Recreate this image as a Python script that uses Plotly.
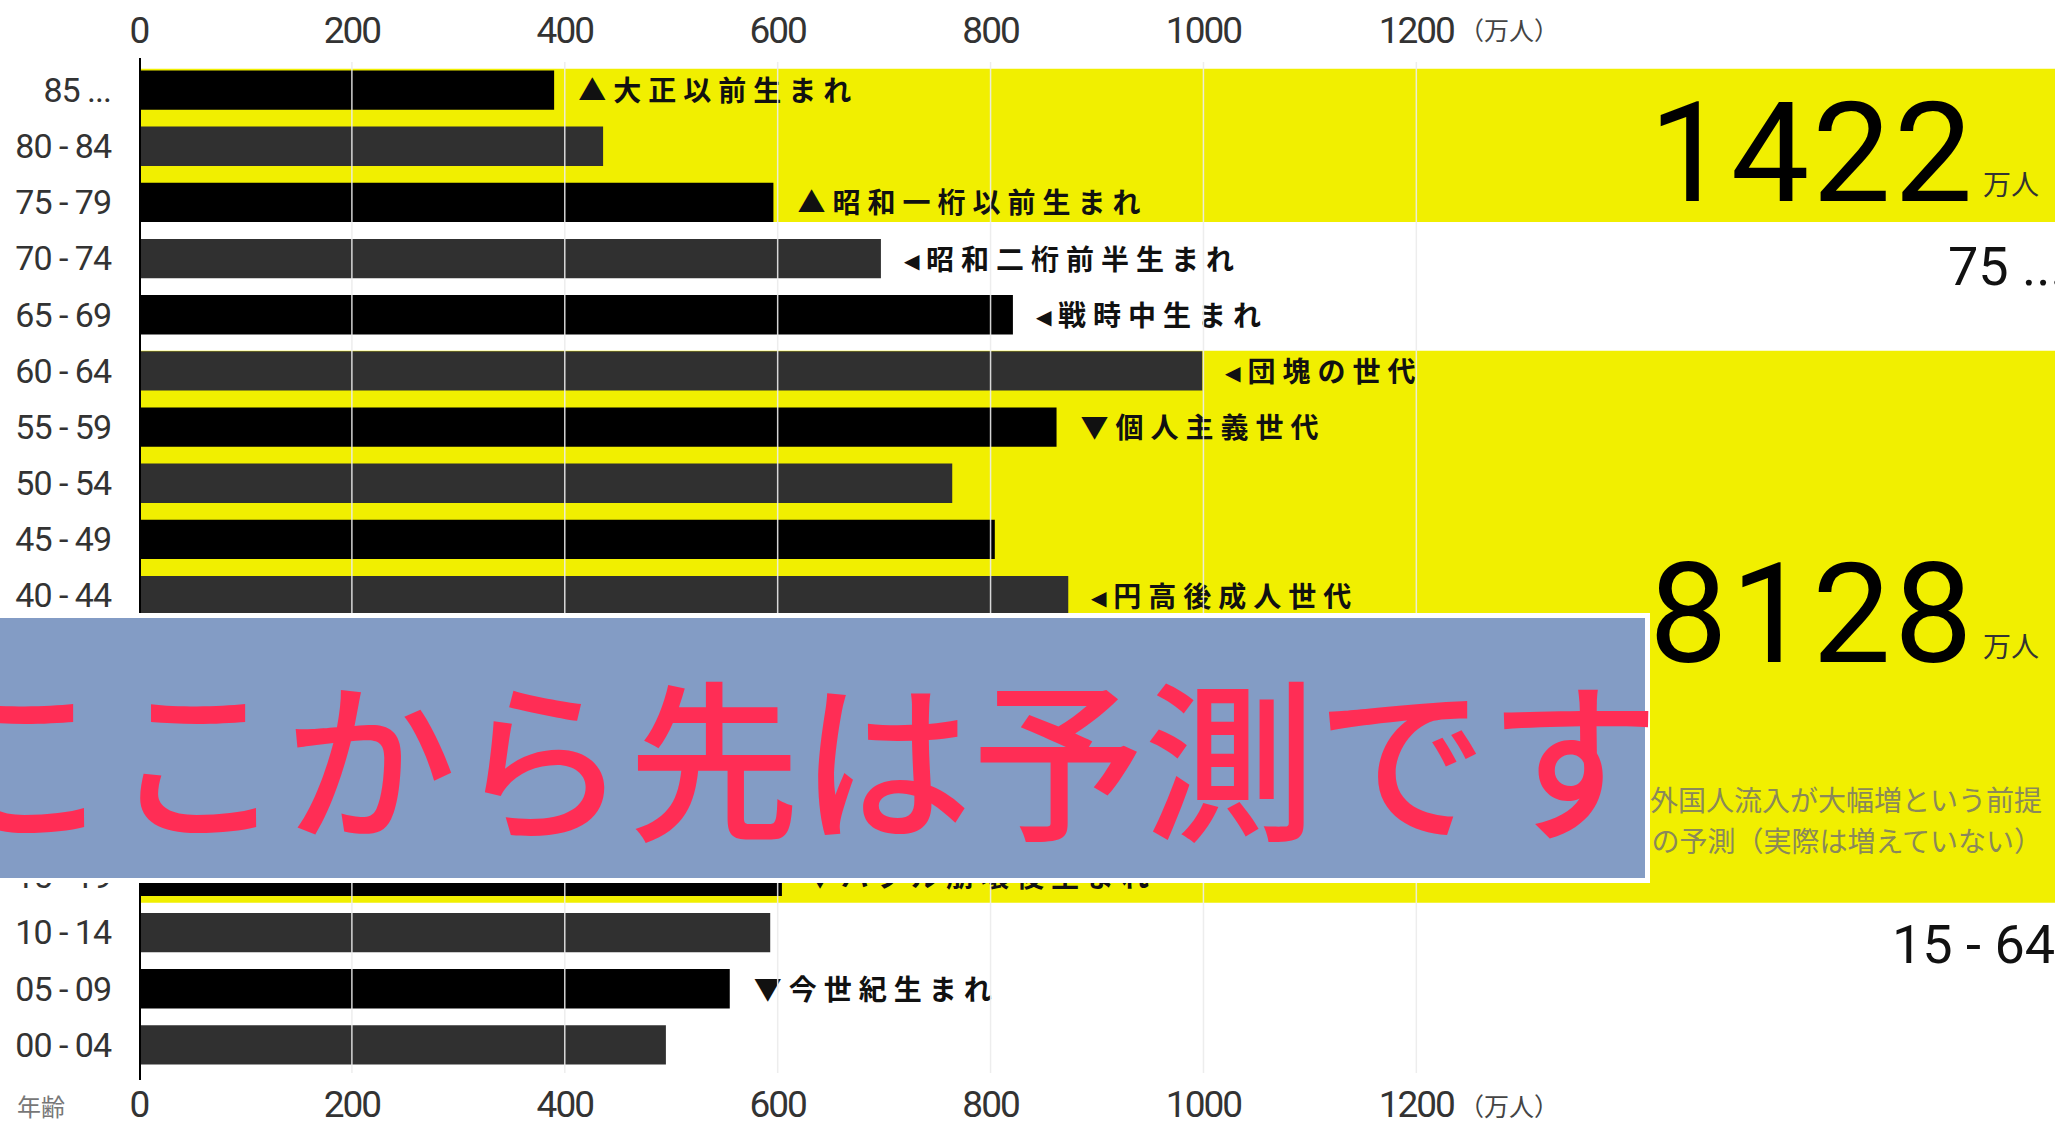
import plotly.graph_objects as go

# ---------------- data ----------------
ages = ["85 ...", "80 - 84", "75 - 79", "70 - 74", "65 - 69", "60 - 64", "55 - 59",
        "50 - 54", "45 - 49", "40 - 44", "35 - 39", "30 - 34", "25 - 29", "20 - 24",
        "15 - 19", "10 - 14", "05 - 09", "00 - 04"]
population = [390, 436, 596, 697, 821, 999, 862, 764, 804, 873,
              975, 850, 740, 657, 604, 593, 555, 495]   # 万人 (35-39..20-24 hidden under overlay: estimated)

generation_ages = ["85 ...", "75 - 79", "70 - 74", "65 - 69", "60 - 64", "55 - 59",
                   "40 - 44", "15 - 19", "05 - 09"]
generation_labels = ["▲大正以前生まれ", "▲昭和一桁以前生まれ", "◂昭和二桁前半生まれ", "◂戦時中生まれ",
                     "◂団塊の世代", "▼個人主義世代", "◂円高後成人世代", "▼バブル崩壊後生まれ", "▼今世紀生まれ"]

tick_values = [0, 200, 400, 600, 800, 1000, 1200]
tick_labels = ["0", "200", "400", "600", "800", "1000", "1200"]

total_75plus = "1422"
total_15_64 = "8128"
group_75plus = "75 ..."
group_15_64 = "15 - 64"
unit = "万人"
note_lines = ["外国人流入が大幅増という前提", "の予測（実際は増えていない）"]
overlay_text = "ここから先は予測です"

# ---------------- geometry ----------------
OFF = 0                      # body margin removed by post_script below
W, H = 2055 - OFF, 1124 - OFF
REF_L, REF_T, REF_B = 139, 62, 1073   # plot area in window pixels
ML, MT = REF_L - OFF, REF_T - OFF
MR = 0
PW = W - ML - MR
PH = REF_B - REF_T
MB = H - MT - PH
XMAX = 1800
NROW = len(ages)
ROW_H = PH / NROW

def px_x(p):  # window pixel -> paper x
    return (p - OFF - ML) / PW

def px_y(p):  # window pixel -> paper y
    return (MT + PH - (p - OFF)) / PH

def px_to_dx(p):  # pixel distance -> x data units
    return p * XMAX / PW

def px_to_row(p):  # window pixel -> row-index coordinate
    return (p - REF_T) / ROW_H - 0.5

YELLOW = "#f1ef00"
NUMFONT = "Roboto"
JPFONT = "Noto Sans CJK JP"

bar_colors = ["#000000" if i % 2 == 0 else "#303030" for i in range(NROW)]

fig = go.Figure()
fig.add_trace(go.Bar(x=population, y=ages, orientation="h", width=0.7,
                     marker=dict(color=bar_colors, line=dict(width=0)),
                     showlegend=False, hoverinfo="x+y"))
# invisible trace to activate the top axis
fig.add_trace(go.Scatter(x=[None], y=[ages[0]], xaxis="x2", mode="markers",
                         showlegend=False, hoverinfo="skip"))

# generation labels next to the bars (as trace text so the overlay box can cover them)
lab_x = [population[ages.index(a)] + px_to_dx(24) for a in generation_ages]
lab_y = [ages.index(a) + 0.07 for a in generation_ages]
fig.add_trace(go.Scatter(
    x=lab_x, y=lab_y, yaxis="y2", mode="text",
    text=[f'<span style="letter-spacing:7px">{t}</span>' for t in generation_labels],
    textposition="middle right",
    textfont=dict(family=JPFONT, size=28, color="#111111", weight="bold"),
    showlegend=False, hoverinfo="skip"))

# note text (partly hidden under the overlay box)
fig.add_trace(go.Scatter(
    x=[px_to_dx(2042 - REF_L)] * 2, y=[px_to_row(804), px_to_row(845)], yaxis="y2", mode="text",
    text=note_lines, textposition="middle left",
    textfont=dict(family=JPFONT, size=28, color="#8a885a"),
    showlegend=False, hoverinfo="skip"))

shapes = []
# yellow bands (75+ and 15-64 groups)
shapes.append(dict(type="rect", xref="paper", yref="y", x0=0, x1=1,
                   y0=ages.index("85 ...") - 0.38, y1=ages.index("75 - 79") + 0.35,
                   fillcolor=YELLOW, line=dict(width=0), layer="below"))
shapes.append(dict(type="rect", xref="paper", yref="y", x0=0, x1=1,
                   y0=ages.index("60 - 64") - 0.36, y1=ages.index("15 - 19") + 0.47,
                   fillcolor=YELLOW, line=dict(width=0), layer="below"))
# light grid lines drawn over the bars
for v in tick_values[1:]:
    shapes.append(dict(type="line", xref="x", yref="paper", x0=v, x1=v, y0=0, y1=1,
                       line=dict(color="rgba(235,235,235,0.9)", width=1.5), layer="above"))
# thick zero axis line
shapes.append(dict(type="line", xref="x", yref="paper", x0=0, x1=0, y0=px_y(1080), y1=px_y(58),
                   line=dict(color="#000000", width=4), layer="above"))
# overlay box "forecast from here"
shapes.append(dict(type="rect", xref="paper", yref="paper", x0=px_x(-30), x1=px_x(1650),
                   y0=px_y(883), y1=px_y(613), fillcolor="#ffffff", line=dict(width=0), layer="above"))
shapes.append(dict(type="rect", xref="paper", yref="paper", x0=px_x(-30), x1=px_x(1645),
                   y0=px_y(878), y1=px_y(618), fillcolor="#839cc5", line=dict(width=0), layer="above"))

annotations = []
# units next to the 1200 ticks
for yy in (px_y(29), px_y(1105)):
    annotations.append(dict(x=1200, y=yy, xref="x", yref="paper", text="（万人）",
                            showarrow=False, xanchor="left", yanchor="middle", xshift=41,
                            font=dict(family=JPFONT, size=25, color="#444444")))
annotations.append(dict(x=px_x(41), y=px_y(1105), xref="paper", yref="paper", text="年齢",
                        showarrow=False, xanchor="center", yanchor="middle",
                        font=dict(family=JPFONT, size=24, color="#777777")))

# big totals
for txt, ybig, yunit in ((total_75plus, 153, 183), (total_15_64, 614, 645)):
    annotations.append(dict(x=px_x(1978), y=px_y(ybig), xref="paper", yref="paper",
                            text=f'<span style="letter-spacing:3px">{txt}</span>',
                            showarrow=False, xanchor="right", yanchor="middle",
                            font=dict(family=NUMFONT, size=140, color="#000000")))
    annotations.append(dict(x=px_x(2041), y=px_y(yunit), xref="paper", yref="paper", text=unit,
                            showarrow=False, xanchor="right", yanchor="middle",
                            font=dict(family=JPFONT, size=28, color="#333333")))

annotations.append(dict(x=px_x(1946), y=px_y(266), xref="paper", yref="paper", text=group_75plus,
                        showarrow=False, xanchor="left", yanchor="middle",
                        font=dict(family=NUMFONT, size=54, color="#111111")))
annotations.append(dict(x=px_x(1890), y=px_y(944), xref="paper", yref="paper", text=group_15_64,
                        showarrow=False, xanchor="left", yanchor="middle",
                        font=dict(family=NUMFONT, size=54, color="#111111")))

# red handwritten-style message over the box
annotations.append(dict(x=px_x(1662), y=px_y(752), xref="paper", yref="paper",
                        text=overlay_text, showarrow=False, xanchor="right", yanchor="middle",
                        font=dict(family=JPFONT, size=172, color="#ff2d55", weight=500)))

def narrow(s, sp):
    return f'<span style="letter-spacing:{sp}px">{s}</span>'

xtick_text = [narrow(t, -2) for t in tick_labels]
ytick_text = [narrow(a, -1) for a in ages]
tickfont = dict(family=NUMFONT, size=37, color="#333333")
fig.update_layout(
    width=W, height=H,
    margin=dict(l=ML, r=MR, t=MT, b=MB, pad=0, autoexpand=False),
    paper_bgcolor="#ffffff", plot_bgcolor="#ffffff",
    bargap=0.3,
    xaxis=dict(range=[0, XMAX], tickvals=tick_values, ticktext=xtick_text, showgrid=False,
               zeroline=False, showline=False, ticks="", tickfont=tickfont, side="bottom",
               ticklabelstandoff=6, fixedrange=True, automargin=False),
    xaxis2=dict(range=[0, XMAX], tickvals=tick_values, ticktext=xtick_text, showgrid=False,
                zeroline=False, showline=False, ticks="", tickfont=tickfont, side="top",
                overlaying="x", anchor="y", ticklabelstandoff=11, fixedrange=True, automargin=False),
    yaxis=dict(type="category", categoryorder="array", categoryarray=ages,
               tickvals=ages, ticktext=ytick_text,
               range=[NROW - 0.5, -0.5], showgrid=False, zeroline=False, showline=False,
               ticks="", ticklabelstandoff=27, automargin=False,
               tickfont=dict(family=NUMFONT, size=34, color="#333333"), fixedrange=True),
    yaxis2=dict(range=[NROW - 0.5, -0.5], overlaying="y", visible=False, fixedrange=True,
                automargin=False),
    shapes=shapes,
    annotations=annotations,
)

fig.write_html("out.html", config={"displayModeBar": False},
               post_script="document.body.style.margin='0px';")
